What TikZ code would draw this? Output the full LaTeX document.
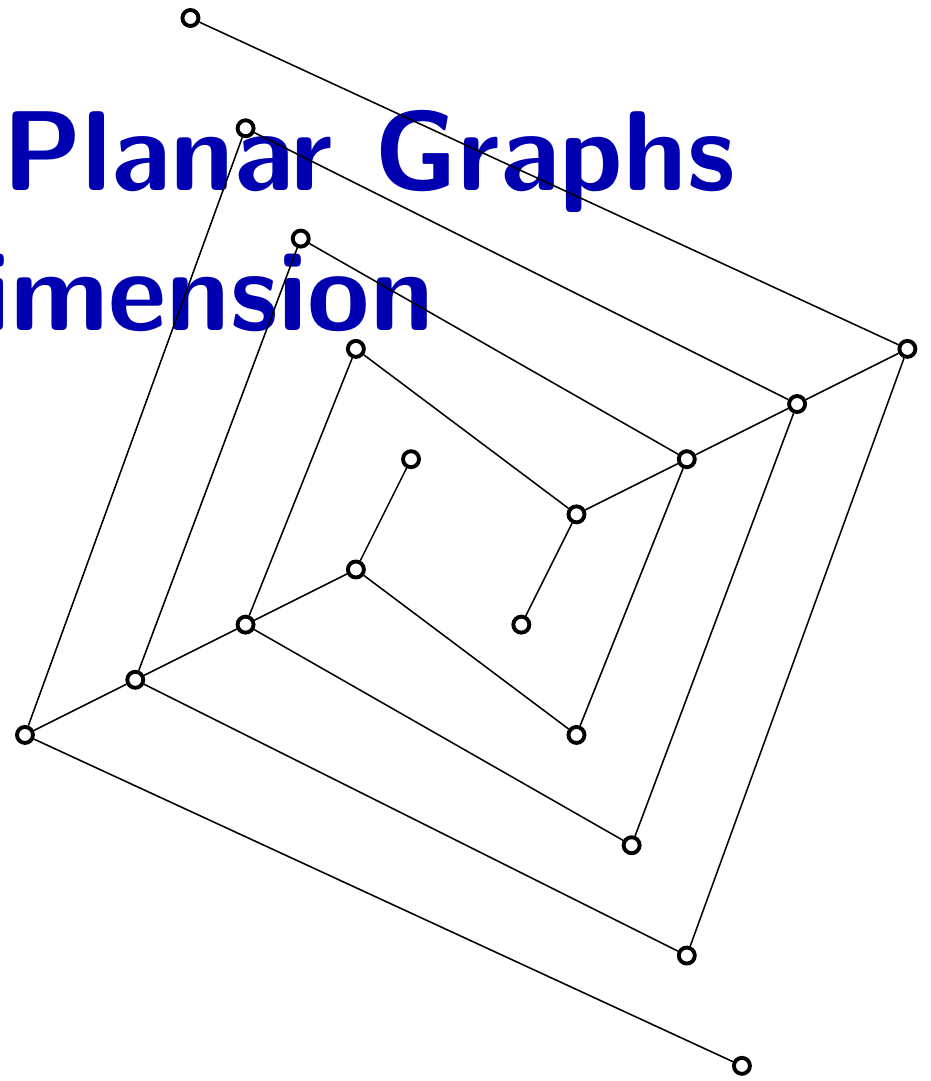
\documentclass[tikz,border=0pt]{standalone}
\usepackage{fontspec}
\usepackage{tikz}
\usetikzlibrary{positioning}
\definecolor{titleblue}{RGB}{0,0,176}

\tikzset{
  vertex/.style={circle, draw=black, fill=white, line width=2pt, inner sep=0pt, minimum size=0.29cm},
  edge/.style={black, line width=0.8pt},
  bigtitle/.style={titleblue, anchor=base west, inner sep=0pt, font=\fontsize{58.6}{62}\selectfont\sffamily\bfseries}
}

\begin{document}
\begin{tikzpicture}
\useasboundingbox (-0.453,0.326) rectangle (16.428,-19.275);

% title (cut off on the left)
\node[bigtitle] (title1) at (-0.42,-3.12) {Planar Graphs};
\node[bigtitle] (title2) at (-0.80,-5.66) {imension};

% vertices
\foreach \name/\x/\y in {t1/3/0, t2/4/2, t3/5/4, t4/6/6, t5/7/8,
                         r1/16/6, r2/14/7, r3/12/8, r4/10/9, r5/9/11,
                         l1/0/13, l2/2/12, l3/4/11, l4/6/10,
                         b1/10/13, b2/11/15, b3/12/17, b4/13/19}
  \node[vertex] (\name) at (\x,-\y) {};

% edges
\draw[edge] (r1) -- (r2) -- (r3) -- (r4) -- (r5);
\draw[edge] (l1) -- (l2) -- (l3) -- (l4) -- (t5);
\draw[edge] (t1) -- (r1);
\draw[edge] (t2) -- (r2);
\draw[edge] (t3) -- (r3);
\draw[edge] (t4) -- (r4);
\draw[edge] (l1) -- (t2);
\draw[edge] (l2) -- (t3);
\draw[edge] (l3) -- (t4);
\draw[edge] (l4) -- (b1);
\draw[edge] (l3) -- (b2);
\draw[edge] (l2) -- (b3);
\draw[edge] (l1) -- (b4);
\draw[edge] (r3) -- (b1);
\draw[edge] (r2) -- (b2);
\draw[edge] (r1) -- (b3);
\end{tikzpicture}
\end{document}
